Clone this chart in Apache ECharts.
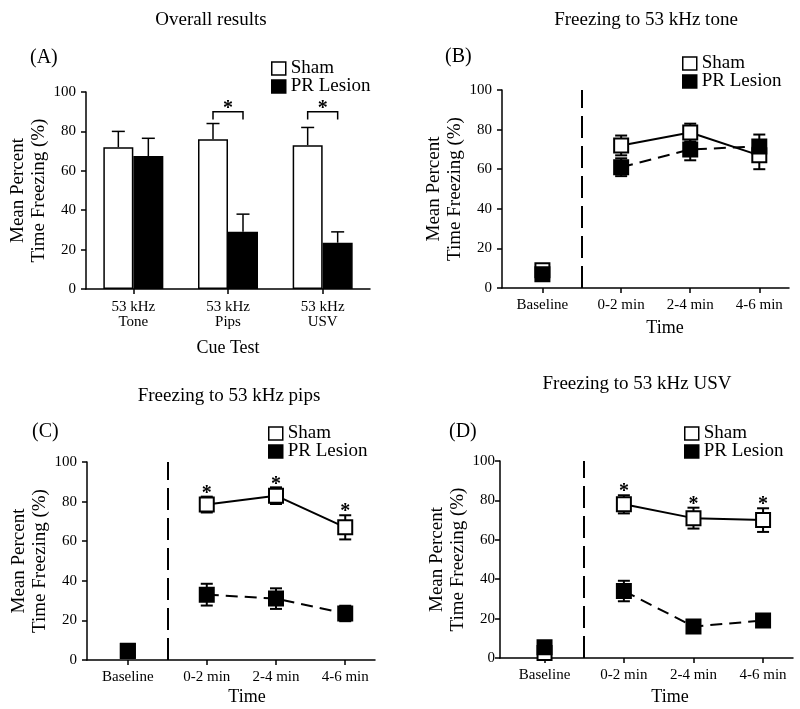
<!DOCTYPE html>
<html>
<head>
<meta charset="utf-8">
<script src="https://cdn.jsdelivr.net/npm/echarts@6/dist/echarts.min.js"></script>
<style>
html,body{margin:0;padding:0;background:#fff;}
#c{width:800px;height:709px;}
</style>
</head>
<body>
<div id="c"></div>
<script>
// ---------- DATA ----------
const catsA = ['53 kHz\nTone', '53 kHz\nPips', '53 kHz\nUSV'];
const shamA = [72, 76, 73];
const shamAErr = [8, 8, 9];
const lesionA = [67.5, 29, 23.5];
const lesionAErr = [9, 9, 5.5];
const sigCatsA = [1, 2];
const sigLevelA = 90;

const timeLabels = ['Baseline', '0-2 min', '2-4 min', '4-6 min'];
const timeMid = [-1.28, 1, 3, 5];   // minutes (bin midpoints; baseline before tone onset)

const shamB = [9, 72, 78.5, 67];
const shamBErr = [2, 5, 4.5, 7];
const lesionB = [7, 61, 70, 71.5];
const lesionBErr = [2, 4.5, 5.5, 6];

const shamC = [4.5, 78.5, 83, 67];
const shamCErr = [1, 4, 4.2, 6.1];
const lesionC = [4.7, 33, 31, 23.5];
const lesionCErr = [1, 5.5, 5.2, 3.9];
const starsC = [false, true, true, true];

const shamD = [2.5, 78, 71, 70];
const shamDErr = [1, 4.6, 5.3, 6];
const lesionD = [5.5, 34, 16, 19];
const lesionDErr = [1, 5.2, 1.5, 2.5];
const starsD = [false, true, true, true];

const yTicks = [0, 20, 40, 60, 80, 100];

// ---------- STYLE ----------
const FONT = "'Liberation Serif','Times New Roman',serif";
const BLACK = '#000';
const BAR_W = 30;
const SYM = 14;

const chart = echarts.init(document.getElementById('c'), null, {renderer: 'canvas'});

const grids = [
  {left: 86, top: 92, width: 284, height: 197},
  {left: 502, top: 90, width: 287, height: 198},
  {left: 87, top: 462, width: 288, height: 198},
  {left: 500, top: 461, width: 293, height: 197}
];
const xRanges = [null, [-2.45, 5.86], [-2.46, 5.86], [-2.56, 5.86]];
const timeNameShift = [0, 39, 32, 47];
const timeNameGap = [0, 31, 28, 30];
const yLabelMargin = [10, 10, 10, 5];
const yNameGap = [35, 35, 36, 28];

function yAxis(i) {
  return {
    type: 'value', gridIndex: i, min: yTicks[0], max: yTicks[yTicks.length - 1], interval: 20,
    splitLine: {show: false},
    axisLine: {show: true, onZero: false, lineStyle: {color: BLACK, width: 1.5}},
    axisTick: {show: true, length: 5, lineStyle: {color: BLACK, width: 1.5}},
    axisLabel: {color: BLACK, fontSize: 15, fontFamily: FONT, margin: yLabelMargin[i]},
    name: 'Mean Percent\nTime Freezing (%)', nameLocation: 'middle', nameGap: yNameGap[i],
    nameTextStyle: {color: BLACK, fontSize: 19, fontFamily: FONT, lineHeight: 21}
  };
}

function timeAxis(i) {
  return {
    type: 'value', gridIndex: i, min: xRanges[i][0], max: xRanges[i][1],
    splitLine: {show: false},
    axisLine: {show: true, onZero: false, lineStyle: {color: BLACK, width: 1.5}},
    axisTick: {show: true, length: 5, customValues: timeMid, lineStyle: {color: BLACK, width: 1.5}},
    axisLabel: {
      color: BLACK, fontSize: 15, fontFamily: FONT, margin: 10, customValues: timeMid,
      formatter: function (v) {
        for (let k = 0; k < timeMid.length; k++) if (Math.abs(timeMid[k] - v) < 1e-6) return timeLabels[k];
        return '';
      }
    },
    name: 'Time', nameLocation: 'middle', nameGap: timeNameGap[i],
    nameTextStyle: {color: BLACK, fontSize: 18, fontFamily: FONT, padding: [0, 0, 0, timeNameShift[i]]}
  };
}

const xAxes = [
  {
    type: 'category', gridIndex: 0, data: catsA,
    axisLine: {show: true, lineStyle: {color: BLACK, width: 1.5}},
    axisTick: {show: true, alignWithLabel: true, length: 5, lineStyle: {color: BLACK, width: 1.5}},
    axisLabel: {color: BLACK, fontSize: 15, fontFamily: FONT, lineHeight: 15, margin: 11, interval: 0},
    name: 'Cue Test', nameLocation: 'middle', nameGap: 50,
    nameTextStyle: {color: BLACK, fontSize: 18, fontFamily: FONT}
  },
  timeAxis(1), timeAxis(2), timeAxis(3)
];

// ----- Panel A helpers -----
function barErrSeries(name, vals, errs, offset) {
  return {
    type: 'custom', name: name, xAxisIndex: 0, yAxisIndex: 0, z: 3, silent: true,
    data: vals.map((v, k) => [k, v, errs[k]]),
    renderItem: function (params, api) {
      const k = api.value(0), v = api.value(1), e = api.value(2);
      const b = api.coord([k, v]);
      const t = api.coord([k, v + e]);
      const cx = b[0] + offset;
      const st = {stroke: BLACK, lineWidth: 1.5};
      return {type: 'group', children: [
        {type: 'line', shape: {x1: cx, y1: b[1], x2: cx, y2: t[1]}, style: st},
        {type: 'line', shape: {x1: cx - 6.5, y1: t[1], x2: cx + 6.5, y2: t[1]}, style: st}
      ]};
    }
  };
}

const sigSeriesA = {
  type: 'custom', xAxisIndex: 0, yAxisIndex: 0, z: 4, silent: true,
  data: sigCatsA.map(k => [k, sigLevelA]),
  renderItem: function (params, api) {
    const k = api.value(0), y = api.value(1);
    const c = api.coord([k, y]);
    const low = api.coord([k, y - 4]);
    const x1 = c[0] - BAR_W / 2, x2 = c[0] + BAR_W / 2;
    const st = {stroke: BLACK, lineWidth: 1.5};
    return {type: 'group', children: [
      {type: 'polyline', shape: {points: [[x1, low[1]], [x1, c[1]], [x2, c[1]], [x2, low[1]]]}, style: Object.assign({fill: null}, st)},
      {type: 'text', style: {text: '*', x: c[0], y: c[1] - 3, fill: BLACK, fontSize: 20, fontWeight: 'bold', fontFamily: FONT, align: 'center', verticalAlign: 'middle'}}
    ]};
  }
};

// ----- Time panels helpers -----
function errSeries(i, vals, errs) {
  return {
    type: 'custom', xAxisIndex: i, yAxisIndex: i, z: 1, silent: true,
    data: vals.map((v, k) => [timeMid[k], v, errs[k]]),
    renderItem: function (params, api) {
      const x = api.value(0), v = api.value(1), e = api.value(2);
      const lo = api.coord([x, v - e]);
      const hi = api.coord([x, v + e]);
      const st = {stroke: BLACK, lineWidth: 2};
      return {type: 'group', children: [
        {type: 'line', shape: {x1: lo[0], y1: lo[1], x2: hi[0], y2: hi[1]}, style: st},
        {type: 'line', shape: {x1: lo[0] - 6, y1: lo[1], x2: lo[0] + 6, y2: lo[1]}, style: st},
        {type: 'line', shape: {x1: hi[0] - 6, y1: hi[1], x2: hi[0] + 6, y2: hi[1]}, style: st}
      ]};
    }
  };
}

function starSeries(i, vals, errs, flags) {
  const d = [];
  flags.forEach((f, k) => { if (f) d.push([timeMid[k], vals[k] + errs[k]]); });
  return {
    type: 'custom', xAxisIndex: i, yAxisIndex: i, z: 5, silent: true, data: d,
    renderItem: function (params, api) {
      const c = api.coord([api.value(0), api.value(1)]);
      return {type: 'text', style: {text: '*', x: c[0], y: c[1] - 3, fill: BLACK, fontSize: 20, fontWeight: 'bold', fontFamily: FONT, align: 'center', verticalAlign: 'middle'}};
    }
  };
}

const shamItem = {color: '#fff', borderColor: BLACK, borderWidth: 2, opacity: 1};
const lesionItem = {color: BLACK, borderColor: BLACK, borderWidth: 2, opacity: 1};

function groupSeries(i, name, vals, isSham, withDash) {
  const z = isSham ? 3 : 4;
  const line = {
    type: 'line', name: name, xAxisIndex: i, yAxisIndex: i, z: z,
    data: vals.slice(1).map((v, k) => [timeMid[k + 1], v]),
    symbol: 'rect', symbolSize: SYM, showSymbol: true,
    itemStyle: isSham ? shamItem : lesionItem,
    lineStyle: {color: BLACK, width: 2, type: isSham ? 'solid' : [12, 7]},
    silent: true
  };
  if (withDash) {
    line.markLine = {
      silent: true, symbol: 'none', label: {show: false},
      lineStyle: {color: BLACK, width: 2, type: [22, 8]},
      data: [{xAxis: (timeMid[0] + timeMid[1]) / 2}]
    };
  }
  const base = {
    type: 'scatter', name: name, xAxisIndex: i, yAxisIndex: i, z: z,
    data: [[timeMid[0], vals[0]]],
    symbol: 'rect', symbolSize: SYM,
    itemStyle: isSham ? shamItem : lesionItem, silent: true
  };
  return [line, base];
}

function timePanel(i, sham, shamErr, lesion, lesionErr, stars) {
  let s = [errSeries(i, sham, shamErr), errSeries(i, lesion, lesionErr)];
  s = s.concat(groupSeries(i, 'Sham', sham, true, true));
  s = s.concat(groupSeries(i, 'PR Lesion', lesion, false, false));
  if (stars) s.push(starSeries(i, sham, shamErr, stars));
  return s;
}

let series = [
  {type: 'bar', name: 'Sham', xAxisIndex: 0, yAxisIndex: 0, data: shamA, barWidth: BAR_W, barGap: '0%',
   itemStyle: {color: '#fff', borderColor: BLACK, borderWidth: 1.5}, silent: true, z: 2},
  {type: 'bar', name: 'PR Lesion', xAxisIndex: 0, yAxisIndex: 0, data: lesionA, barWidth: BAR_W, barGap: '0%',
   itemStyle: {color: BLACK, borderColor: BLACK, borderWidth: 1.5}, silent: true, z: 2},
  barErrSeries('Sham', shamA, shamAErr, -BAR_W / 2),
  barErrSeries('PR Lesion', lesionA, lesionAErr, BAR_W / 2),
  sigSeriesA
];
series = series.concat(timePanel(1, shamB, shamBErr, lesionB, lesionBErr, null));
series = series.concat(timePanel(2, shamC, shamCErr, lesionC, lesionCErr, starsC));
series = series.concat(timePanel(3, shamD, shamDErr, lesionD, lesionDErr, starsD));

function legend(left, top) {
  return {
    left: left, top: top, orient: 'vertical', itemGap: -1, itemWidth: 14, itemHeight: 13,
    selectedMode: false,
    textStyle: {color: BLACK, fontSize: 19, fontFamily: FONT, lineHeight: 18},
    data: [
      {name: 'Sham', icon: 'rect', itemStyle: {color: '#fff', borderColor: BLACK, borderWidth: 1.5}},
      {name: 'PR Lesion', icon: 'rect', itemStyle: {color: BLACK, borderColor: BLACK, borderWidth: 1.5}}
    ]
  };
}

function ttl(text, left, top, size, align) {
  return {text: text, left: left, top: top, textAlign: align || 'center', padding: 0,
    textStyle: {color: BLACK, fontSize: size, fontWeight: 'normal', fontFamily: FONT}};
}

chart.setOption({
  animation: false,
  backgroundColor: '#fff',
  title: [
    ttl('Overall results', 211, 11, 19),
    ttl('Freezing to 53 kHz tone', 646, 11, 19),
    ttl('Freezing to 53 kHz pips', 229, 387, 19),
    ttl('Freezing to 53 kHz USV', 637, 375, 19),
    ttl('(A)', 30, 48, 20, 'left'),
    ttl('(B)', 445, 47, 20, 'left'),
    ttl('(C)', 32, 422, 20, 'left'),
    ttl('(D)', 449, 422, 20, 'left')
  ],
  legend: [legend(266, 54), legend(677, 49), legend(263, 419), legend(679, 419)],
  grid: grids,
  xAxis: xAxes,
  yAxis: [yAxis(0), yAxis(1), yAxis(2), yAxis(3)],
  series: series
});
</script>
</body>
</html>
